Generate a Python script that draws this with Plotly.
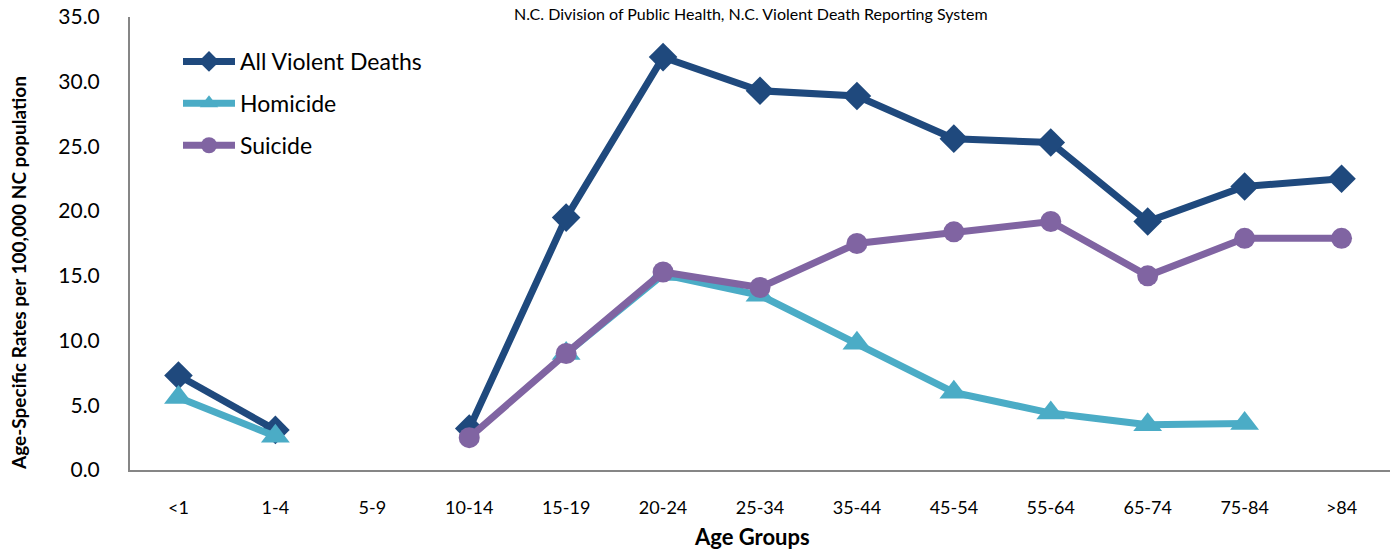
import plotly.graph_objects as go

# Age-specific violent death rates per 100,000 NC population
age_groups = ["<1", "1-4", "5-9", "10-14", "15-19", "20-24", "25-34",
              "35-44", "45-54", "55-64", "65-74", "75-84", ">84"]
all_violent = [7.3, 3.1, None, 3.2, 19.5, 31.9, 29.3, 28.9, 25.6, 25.3, 19.2, 21.9, 22.5]
homicide = [5.6, 2.6, None, None, 9.0, 15.1, 13.5, 9.8, 6.0, 4.4, 3.5, 3.6, None]
suicide = [None, None, None, 2.5, 9.0, 15.3, 14.1, 17.5, 18.4, 19.2, 15.0, 17.9, 17.9]

y_ticks = [0, 5, 10, 15, 20, 25, 30, 35]

FONT = "Lato, 'Open Sans', sans-serif"

series = [
    ("All Violent Deaths", all_violent, "#1F497D", "diamond", 22),
    ("Homicide", homicide, "#4BACC6", "triangle-up", 25),
    ("Suicide", suicide, "#8064A2", "circle", 21),
]

fig = go.Figure()
for i, (name, vals, color, symbol, msize) in enumerate(series):
    fig.add_trace(go.Scatter(
        x=age_groups, y=vals, name=name, mode="lines+markers",
        line=dict(color=color, width=7),
        marker=dict(symbol=symbol, size=msize, color=color, line=dict(width=0)),
        connectgaps=False, legendgroup=f"g{i}",
    ))

W, H = 1393, 552
L, R, T, B = 130, 3, 17, 82
pw, ph = W - L - R, H - T - B


def px_to_paper(xp, yp):
    return (xp - L) / pw, (H - B - yp) / ph


lx, ly = px_to_paper(178, 40)

fig.update_layout(
    width=W, height=H,
    margin=dict(l=L, r=R, t=T, b=B),
    paper_bgcolor="white", plot_bgcolor="white",
    font=dict(family=FONT, color="#000000"),
    showlegend=True,
    legend=dict(
        x=lx, y=ly, xanchor="left", yanchor="top",
        font=dict(size=23, family=FONT), bgcolor="rgba(0,0,0,0)",
        itemwidth=52, tracegroupgap=9, traceorder="grouped",
    ),
    xaxis=dict(
        type="category", range=[-0.5, 12.5],
        showline=True, linecolor="#868686", linewidth=2,
        showgrid=False, ticks="", tickfont=dict(size=18, family=FONT),
        ticklabelstandoff=20, zeroline=False,
    ),
    yaxis=dict(
        range=[0, 35], tickvals=y_ticks, tickformat=".1f",
        showline=True, linecolor="#868686", linewidth=2,
        showgrid=False, ticks="", tickfont=dict(size=21, family=FONT),
        ticklabelstandoff=24, zeroline=False,
    ),
)

labels = [
    ("N.C. Division of Public Health, N.C. Violent Death Reporting System", 751, 14, 16, 0),
    ("<b>Age Groups</b>", 752, 536, 22, 0),
    ("<b>Age-Specific Rates per 100,000 NC population</b>", 18, 273, 19, -90),
]
for text, xp, yp, size, angle in labels:
    ax, ay = px_to_paper(xp, yp)
    fig.add_annotation(text=text, x=ax, y=ay, xref="paper", yref="paper",
                       xanchor="center", yanchor="middle", textangle=angle,
                       showarrow=False, font=dict(size=size, family=FONT))

fig.write_html("out.html")
